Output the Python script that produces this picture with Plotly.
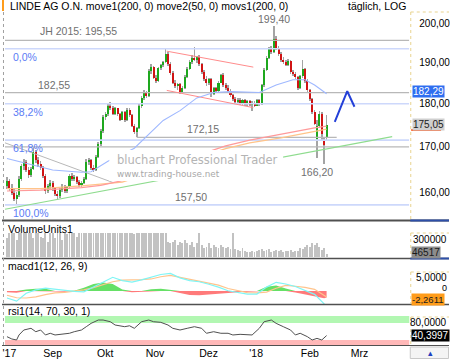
import numpy as np
import plotly.graph_objects as go

W, H = 450, 359

# ---------------- data ----------------
opens = [161.5,162.6,161.0,160.0,158.8,159.6,163.0,165.8,166.6,165.0,163.8,165.2,168.8,167.0,166.2,165.4,163.7,160.3,161.4,162.2,
         161.0,159.8,159.4,160.7,161.3,160.3,161.2,163.7,163.0,163.4,162.3,161.6,162.2,162.9,166.7,167.0,165.4,164.9,167.8,170.6,
         173.6,176.9,177.4,179.4,178.9,177.6,178.8,177.4,176.2,177.9,176.0,178.5,177.2,174.8,173.4,174.2,179.4,181.4,182.7,181.8,
         187.9,188.8,186.2,185.5,188.6,189.3,190.0,192.0,189.6,187.4,185.0,184.2,184.6,182.8,183.7,186.4,188.4,190.2,191.2,190.8,
         191.3,189.5,187.5,185.9,184.8,185.8,182.3,183.6,182.9,185.0,186.8,184.5,183.6,182.9,182.0,181.0,180.3,180.9,180.0,180.7,
         179.9,180.5,179.7,180.2,179.5,180.7,179.8,184.3,188.1,191.2,193.4,192.6,195.9,193.6,192.1,190.7,190.1,189.4,190.3,187.6,
         187.0,186.3,183.6,186.5,188.3,185.4,183.1,181.0,178.0,171.8,174.7,177.6,171.5,172.3]
highs = [163.3,163.0,161.8,160.8,160.2,163.5,166.2,167.3,167.0,165.5,165.6,169.9,169.3,167.8,166.8,165.8,164.0,161.8,162.8,162.5,
         161.3,160.3,161.0,161.8,161.6,161.5,164.0,164.2,163.8,163.6,162.8,162.6,163.3,167.2,167.6,167.3,165.9,168.2,171.0,174.0,
         177.3,178.0,180.0,180.3,179.3,179.2,179.0,177.8,178.3,178.2,178.9,178.8,177.5,175.3,174.6,179.8,181.8,183.2,183.0,188.3,
         189.5,189.1,186.8,188.9,189.7,190.4,193.4,192.5,190.0,187.9,185.6,185.0,184.9,184.1,186.8,188.8,190.6,191.8,193.9,191.6,
         191.8,189.9,188.0,186.5,186.2,186.0,184.0,183.9,185.4,187.2,187.3,185.0,184.3,183.4,182.3,181.5,181.2,181.3,181.0,181.0,
         180.8,180.9,180.6,180.5,181.0,181.0,184.6,188.5,191.6,193.9,194.2,199.4,196.6,194.0,192.6,191.4,190.6,190.8,190.6,188.2,
         187.5,186.7,186.9,190.6,188.6,185.8,183.5,181.3,178.4,176.0,178.3,178.0,172.1,177.2]
lows = [160.8,160.5,159.5,158.3,157.5,159.2,162.6,165.0,164.5,163.2,163.4,165.0,166.5,165.5,164.8,163.2,159.8,159.9,160.8,160.5,
        159.3,158.6,159.0,160.2,159.9,160.0,161.0,162.6,162.5,161.9,161.2,161.3,161.8,162.7,166.0,165.0,164.4,164.7,167.5,170.2,
        173.2,176.0,177.0,178.4,177.2,177.3,177.0,175.8,176.0,175.6,175.8,176.8,174.4,172.9,172.15,174.0,179.0,180.8,181.3,181.6,
        187.2,185.8,184.9,185.2,188.0,188.8,189.8,189.2,186.9,184.6,183.6,183.3,182.3,182.5,183.5,186.0,188.0,189.6,190.3,189.8,
        189.0,187.0,185.4,184.2,184.5,181.5,182.0,182.4,182.7,184.8,184.0,183.2,182.5,181.6,180.6,179.8,179.9,179.6,179.7,179.5,
        179.4,179.3,178.3,179.2,179.3,179.4,179.6,184.0,187.8,190.8,192.1,192.3,193.1,191.6,190.2,189.6,189.0,189.1,187.1,186.6,
        185.9,183.2,183.4,186.2,185.0,182.7,180.6,177.5,174.9,167.5,174.3,171.2,166.2,171.6]
closes = [162.6,161.0,160.0,158.8,159.6,163.0,165.8,166.6,165.0,163.8,165.2,168.8,167.0,166.2,165.4,163.7,160.3,161.4,162.2,161.0,
          159.8,159.4,160.7,161.3,160.3,161.2,163.7,163.0,163.4,162.3,161.6,162.2,162.9,166.7,167.0,165.4,164.9,167.8,170.6,173.6,
          176.9,177.4,179.4,178.9,177.6,178.8,177.4,176.2,177.9,176.0,178.5,177.2,174.8,173.4,174.2,179.4,181.4,182.7,181.8,187.9,
          188.8,186.2,185.5,188.6,189.3,190.0,192.0,189.6,187.4,185.0,184.2,184.6,182.8,183.7,186.4,188.4,190.2,191.2,190.8,191.3,
          189.5,187.5,185.9,184.8,185.8,182.3,183.6,182.9,185.0,186.8,184.5,183.6,182.9,182.0,181.0,180.3,180.9,180.0,180.7,179.9,
          180.5,179.7,180.2,179.5,180.7,179.8,184.3,188.1,191.2,193.4,192.6,195.9,193.6,192.1,190.7,190.1,189.4,190.3,187.6,187.0,
          186.3,183.6,186.5,188.3,185.4,183.1,181.0,178.0,175.3,174.7,177.6,172.9,170.5,175.05]
volumes = [311000,520000,480000,560000,283000,610000,450000,530000,470000,590000,440000,311000,500000,460000,330000,311000,640000,255000,480000,520000,
           311000,470000,430000,283000,500000,380000,460000,540000,450000,330000,420000,480000,510000,560000,470000,520000,600000,450000,490000,530000,
           470000,440000,560000,500000,430000,470000,520000,450000,480000,600000,430000,460000,500000,380000,470000,520000,450000,480000,560000,430000,
           470000,500000,450000,430000,520000,470000,440000,255000,228000,255000,283000,200000,255000,228000,283000,228000,200000,255000,172000,228000,
           450000,200000,145000,172000,228000,145000,200000,172000,145000,200000,172000,145000,172000,130000,430000,140000,110000,100000,150000,95000,
           85000,90000,100000,80000,95000,120000,140000,100000,110000,130000,90000,100000,120000,95000,110000,85000,100000,95000,120000,90000,
           105000,100000,150000,130000,160000,200000,172000,228000,200000,228000,172000,117000,145000,46517]

ma50_x = [0, 10, 19, 31, 35, 42, 53, 65, 72, 79, 86, 93, 100, 105, 112, 119, 124, 128, 133]
ma50_v = [167.4, 166.0, 164.9, 164.4, 164.5, 166.8, 169.7, 176.0, 178.3, 181.3, 182.6, 182.8, 182.6, 182.6, 184.4, 185.7, 185.7, 184.4, 182.29]
ma200a_x = [0, 14, 31, 39, 48, 91, 101, 114, 128, 133]
ma200a_v = [160.4, 160.6, 161.1, 161.6, 162.6, 170.2, 171.5, 172.9, 174.3, 174.7]
ma200b_x = [0, 14, 31, 48, 91, 101, 114, 128, 133]
ma200b_v = [160.9, 160.9, 161.5, 162.3, 169.6, 170.9, 172.0, 173.6, 174.0]

macd_x = [0,4,8,12,16,20,24,28,32,36,40,44,48,52,56,60,64,68,72,76,80,84,88,92,96,100,104,108,112,116,120,124,128,132,133]
macd_v = [-2.5,-3.6,-0.8,0.4,1.0,0.6,0.3,-0.1,-0.3,1.4,3.3,4.9,3.7,3.2,4.0,5.0,5.9,6.3,4.7,3.7,3.3,2.4,1.4,0.1,-0.6,-1.1,-1.1,1.4,3.1,2.5,1.6,0.1,-1.2,-4.6,-5.4]
signal_v = [-1.5,-2.4,-2.5,-2.1,-1.3,-0.7,-0.5,-0.1,0.4,1.2,2.3,3.3,3.9,3.9,4.1,4.3,5.1,5.6,4.9,4.3,3.7,2.9,2.1,0.9,0.1,-0.6,-0.7,-0.4,1.0,2.0,1.7,1.3,0.6,-1.6,-2.1]
hist_v = [-0.4,-0.6,0.5,0.8,0.8,-0.2,-0.3,0.1,1.2,2.5,3.0,2.5,0.5,-0.4,-0.2,0.6,0.8,0.5,-0.8,-1.4,-1.5,-1.2,-1.0,-0.6,-0.4,-0.3,-0.1,1.5,2.0,0.9,-0.5,-1.2,-1.8,-2.6,-2.3]

rsi_x = [0,2,4,5,7,10,12,14,16,18,20,23,26,28,31,33,35,38,40,43,45,49,51,53,56,59,61,64,67,69,72,75,78,81,83,86,89,92,94,97,
         100,102,105,107,110,112,115,118,120,122,125,127,129,131,133]
rsi_v = [37.8,32.4,30,41.8,53.5,57.5,49.5,53.5,41.8,45.8,41.8,43.3,45.8,49.5,53.5,61.3,69.2,77,77,73,65.3,61.3,63.5,57.5,73,
         77,73,71.6,65.3,57.5,53.5,57.5,61.3,57.5,45.8,49.5,45.8,45.8,41.8,43.3,43.3,41.8,57.5,73,77,69.2,61.3,53.5,41.8,45.8,
         37.8,30,33.8,30,40.4]

# horizontal levels
jh2015 = 195.55
fib_levels = [193.4, 179.9, 171.5, 157.5]
fib_names = ["0,0%", "38,2%", "61,8%", "100,0%"]
level_182 = 182.55
level_172 = 172.15
level_170 = 170.0
level_157 = 157.50
# trend lines (index, price)
chan_up_x, chan_up_v = [66.5, 102.5], [192.8, 188.8]
chan_lo_x, chan_lo_v = [66.5, 102.5], [183.1, 179.0]
gray_tl_x, gray_tl_v = [-0.83, 44.1], [170.9, 162.2]
green_tl_x, green_tl_v = [-0.8, 160.3], [156.6, 172.3]
arrow_x, arrow_v = [136.4, 141.6, 144.6], [175.7, 182.9, 179.2]

month_labels = ["'17", "Sep", "Okt", "Nov", "Dez", "'18", "Feb", "Mrz"]
month_pos = [1.0, 19.0, 40.9, 61.6, 83.9, 103.7, 126.0, 146.7]
price_ticks = [160, 170, 180, 190, 200]

# ---------------- layout constants ----------------
X_LO, X_HI = -0.83, 167.4
FONT = "Liberation Sans, Arial, sans-serif"
def py(p):
    return 1 - p / H
def pxx(p):
    return p / W

idx = list(range(len(closes)))
fig = go.Figure()

# candles: wicks and bodies as bars (so wick stays behind body)
fig.add_trace(go.Bar(x=idx, base=lows, y=[h - l for h, l in zip(highs, lows)], width=0.3,
                     marker=dict(color="#a4a4a4", line=dict(width=0)), xaxis="x", yaxis="y", hoverinfo="skip"))
body_base = [min(o, c) for o, c in zip(opens, closes)]
body_size = [max(abs(c - o), 0.15) for o, c in zip(opens, closes)]
body_col = ["#1ea81e" if c >= o else "#d01414" for o, c in zip(opens, closes)]
fig.add_trace(go.Bar(x=idx, base=body_base, y=body_size, width=0.85,
                     marker=dict(color=body_col, line=dict(width=0)), xaxis="x", yaxis="y", hoverinfo="skip"))

def line(x, y, color, width=1, yaxis="y", dash=None):
    fig.add_trace(go.Scatter(x=x, y=y, mode="lines", line=dict(color=color, width=width, dash=dash),
                             xaxis="x", yaxis=yaxis, hoverinfo="skip"))

# horizontal lines
line([X_LO, X_HI], [jh2015, jh2015], "#b8b8b8", 1.2)
for v in fib_levels:
    line([X_LO, X_HI], [v, v], "#cdd8fb", 1.6)
line([X_LO, X_HI], [level_182, level_182], "#b8b8b8", 1.2)
line([54, 137.2], [level_172, level_172], "#b8b8b8", 1.2)
line([X_LO, X_HI], [level_170, level_170], "#b8b8b8", 1.2)
# trend lines
line(chan_up_x, chan_up_v, "#ff8c8c", 1)
line(chan_lo_x, chan_lo_v, "#ff8c8c", 1)
line(gray_tl_x, gray_tl_v, "#b8b8b8", 1)
line(green_tl_x, green_tl_v, "#8fdc8f", 1.2)
# moving averages
line(ma200b_x, ma200b_v, "#ffc489", 1.2)
line(ma200a_x, ma200a_v, "#ff9a9a", 1.2)
line(ma50_x, ma50_v, "#9fb8ff", 1.1)
# projection arrow
line(arrow_x, arrow_v, "#2440d8", 2)

# volume
fig.add_trace(go.Bar(x=idx, y=volumes, width=0.38, marker=dict(color="#c2c2c2", line=dict(width=0)),
                     xaxis="x", yaxis="y2", hoverinfo="skip"))

# macd
hist_pos = [max(v, 0) for v in hist_v]
hist_neg = [min(v, 0) for v in hist_v]
fig.add_trace(go.Scatter(x=macd_x, y=hist_pos, mode="lines", line=dict(width=0, color="#5fe05f"),
                         fill="tozeroy", fillcolor="#66e066", xaxis="x", yaxis="y3", hoverinfo="skip"))
fig.add_trace(go.Scatter(x=macd_x, y=hist_neg, mode="lines", line=dict(width=0, color="#ff7a7a"),
                         fill="tozeroy", fillcolor="#ff7a7a", xaxis="x", yaxis="y3", hoverinfo="skip"))
line(macd_x, signal_v, "#ffc48c", 1.2, "y3")
line(macd_x, macd_v, "#7ff5f5", 1.2, "y3")

# rsi
line(rsi_x, rsi_v, "#505050", 1, "y4")

# ---------------- shapes ----------------
shapes = []
def pshape(**kw):
    d = dict(xref="paper", yref="paper")
    d.update(kw)
    shapes.append(d)

# rsi bands
pshape(type="rect", x0=pxx(3), x1=pxx(410), y0=py(323), y1=py(316), fillcolor="#b2f7b2", line=dict(width=0), layer="below")
pshape(type="rect", x0=pxx(3), x1=pxx(410), y0=py(345), y1=py(340), fillcolor="#ffb8b8", line=dict(width=0), layer="below")
# watermark box
pshape(type="rect", x0=pxx(108), x1=pxx(283), y0=py(181), y1=py(150), fillcolor="white", line=dict(width=0), layer="above")
# separators
for yy, wdt in [(220.5, 2), (258.5, 1.5), (304.5, 1.5), (345.5, 1.2)]:
    pshape(type="line", x0=0, x1=1, y0=py(yy), y1=py(yy), line=dict(color="#505050", width=wdt), layer="above")
for yy in [220.5, 258.5]:
    pshape(type="line", x0=pxx(411), x1=1, y0=py(yy), y1=py(yy), line=dict(color="#2d4fa8", width=2), layer="above")
# right axis boxes (dotted cream borders)
for top, bot in [(12, 219), (233, 257.5), (272, 303.5), (317, 345)]:
    pshape(type="line", x0=pxx(411.5), x1=pxx(411.5), y0=py(top), y1=py(bot), line=dict(color="#e8d38f", width=1, dash="dot"))
    pshape(type="line", x0=pxx(411.5), x1=1, y0=py(top), y1=py(top), line=dict(color="#e8d38f", width=1, dash="dot"))
# left dotted edge
pshape(type="line", x0=pxx(1.5), x1=pxx(1.5), y0=py(12), y1=py(345), line=dict(color="#a0a0a0", width=1, dash="dot"))
# top-left orange marker
pshape(type="rect", x0=0, x1=pxx(2), y0=py(11), y1=1, fillcolor="#ff9c1a", line=dict(width=0))
# underline for 175,05 label
pshape(type="line", x0=pxx(412), x1=pxx(442), y0=py(130), y1=py(130), line=dict(color="#ff5a1e", width=2), layer="above")
# bottom-right box
pshape(type="rect", x0=pxx(411), x1=pxx(449.5), y0=py(358.5), y1=py(347), line=dict(color="#c8c8c8", width=1), fillcolor="#f4f4f4")

# ---------------- annotations ----------------
ann = []
def txt(text, x, y, size=10, color="black", xanchor="left", yanchor="middle", xref="paper", yref="paper",
        bg=None, family=FONT, xshift=0, yshift=0):
    d = dict(text=text, x=x, y=y, xref=xref, yref=yref, xanchor=xanchor, yanchor=yanchor, showarrow=False,
             font=dict(size=size, color=color, family=family), xshift=xshift, yshift=yshift, borderpad=0)
    if bg:
        d["bgcolor"] = bg
    ann.append(d)

txt("LINDE AG O.N. move1(200, 0) move2(50, 0) movs1(200, 0)", pxx(7), py(6.5), size=10.5)
txt("täglich, LOG", pxx(408), py(6.5), size=10.5, xanchor="right")

LG = np.log10
txt("JH 2015: 195,55", 13.4, LG(jh2015), 10.5, "#707070", yanchor="bottom", xref="x", yref="y", yshift=2)
txt("182,55", 12.4, LG(level_182), 10.5, "#707070", yanchor="bottom", xref="x", yref="y", yshift=1)
txt("172,15", 74.4, LG(level_172), 10.5, "#707070", yanchor="bottom", xref="x", yref="y", yshift=1)
txt("157,50", 69.4, LG(level_157), 10.5, "#707070", yanchor="bottom", xref="x", yref="y", yshift=1)
for name, v in zip(fib_names, fib_levels):
    txt(name, 2.1, LG(v), 10.5, "#5a7cf5", yanchor="top", xref="x", yref="y", yshift=-1)
imax = int(np.argmax(highs))
imin = int(np.argmin(lows[100:])) + 100
txt("199,40", imax, LG(highs[imax]), 10.5, "#707070", xanchor="center", yanchor="bottom", xref="x", yref="y", yshift=0)
txt("166,20", imin, LG(lows[imin]), 10.5, "#707070", xanchor="center", yanchor="top", xref="x", yref="y", xshift=-7, yshift=-1)

txt("bluchart Professional Trader", pxx(115), py(160), 11.5, "#b4b4b4", family="DejaVu Sans, sans-serif")
txt("www.trading-house.net", pxx(115), py(173.5), 8.8, "#a8a8a8", family="DejaVu Sans, sans-serif")

# right side value labels
txt("182,29", pxx(412.5), LG(ma50_v[-1]), 10, "white", yref="y", bg="#2f6ef0", yshift=2)
txt("175,05", pxx(412.5), LG(closes[-1]), 10, "#202020", yref="y", bg="#cfcfcf")

txt("VolumeUnits1", pxx(5), py(229), 10.5)
txt("300000", pxx(449), py(239.5), 10, xanchor="right")
txt(str(volumes[-1]), pxx(411.5), py(252.5), 10, "#1a1a1a", bg="#8c8c8c")

txt("macd1(12, 26, 9)", pxx(5), py(266), 10.5)
txt("5,0000", pxx(449), py(277.5), 10, xanchor="right")
txt("0", pxx(449), py(288), 9, xanchor="right")
txt("-2,2611", pxx(411.5), py(299.5), 9.5, "#202020", bg="#ff9c1a")

txt("rsi1(14, 70, 30, 1)", pxx(5), py(310.5), 10.5)
txt("80,0000", pxx(449), py(322.5), 10, xanchor="right")
txt("40,3997", pxx(411.5), py(335), 10, "white", bg="black")
txt("▴", pxx(431), py(353), 9, "#2040c0", xanchor="center")

fig.update_layout(
    width=W, height=H, autosize=False,
    margin=dict(l=0, r=0, t=0, b=0),
    paper_bgcolor="white", plot_bgcolor="white",
    showlegend=False, hovermode=False, barmode="overlay", bargap=0,
    separators=",.",
    font=dict(family=FONT, size=10, color="black"),
    xaxis=dict(domain=[pxx(3), pxx(410)], range=[X_LO, X_HI], anchor="y4",
               tickvals=month_pos, ticktext=month_labels, ticks="", showgrid=False, zeroline=False,
               showline=False, tickfont=dict(size=10.5, color="black", family=FONT), fixedrange=True),
    yaxis=dict(domain=[py(219), py(12)], type="log", range=[np.log10(154.6), np.log10(203.0)],
               side="right", anchor="x", tickvals=price_ticks, tickformat=".2f", ticks="",
               showgrid=False, zeroline=False, showline=False, ticklabelstandoff=9,
               tickfont=dict(size=10, color="black", family=FONT), fixedrange=True),
    yaxis2=dict(domain=[py(257), py(233)], range=[0, 400000], anchor="x", showticklabels=False,
                showgrid=False, zeroline=False, fixedrange=True),
    yaxis3=dict(domain=[py(304), py(272)], range=[-4.64, 6.79], anchor="x", showticklabels=False,
                showgrid=False, zeroline=False, fixedrange=True),
    yaxis4=dict(domain=[py(345), py(316)], range=[18.2, 86.5], anchor="x", showticklabels=False,
                showgrid=False, zeroline=False, fixedrange=True),
    shapes=shapes,
    annotations=ann,
)

fig.write_html("out.html")
